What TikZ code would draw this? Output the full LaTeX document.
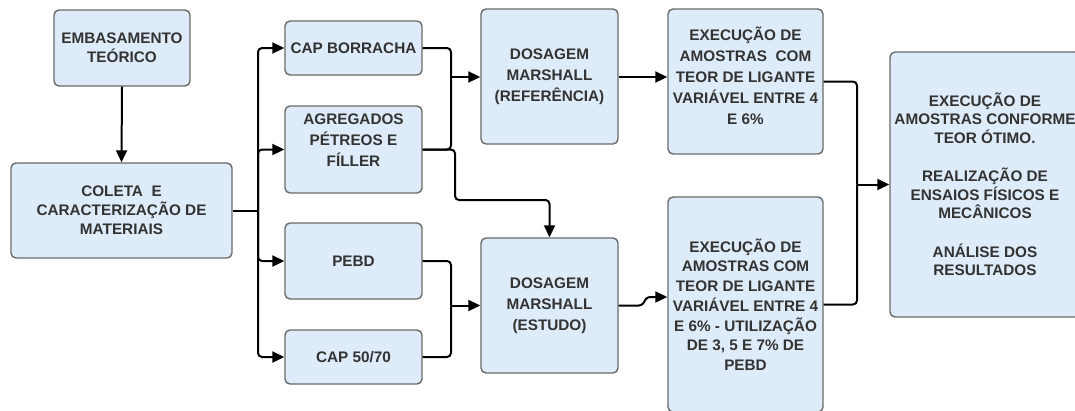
\documentclass[tikz,border=0pt]{standalone}
\usepackage{fontspec}
\setmainfont{Liberation Sans}
\usetikzlibrary{arrows.meta}
\definecolor{boxfill}{HTML}{DDECF8}
\definecolor{boxdraw}{HTML}{6A6A6A}
\definecolor{txt}{HTML}{333333}
\begin{document}
\begin{tikzpicture}[x=1pt,y=-1pt,
  box/.style={draw=boxdraw, fill=boxfill, line width=1.4pt, rounded corners=5pt,
    align=center, text=txt, inner sep=1pt, font=\bfseries\fontsize{15.3}{19}\selectfont},
  wide/.style={font=\bfseries\fontsize{15.3}{21}\selectfont},
  lbl/.style={align=center, text=txt, inner sep=0pt, font=\bfseries\fontsize{15.3}{21}\selectfont},
  conn/.style={line width=2pt, black, rounded corners=4pt},
  arr/.style={conn, -{Triangle[length=12pt,width=11pt]}}]
\useasboundingbox (0,0) rectangle (1075,410);

% boxes
\node[box, minimum width=136, minimum height=76] (emb) at (122,48) {EMBASAMENTO\\TEÓRICO};
\node[box, minimum width=221, minimum height=95] (col) at (121.5,210.5) {COLETA\ \ E\\CARACTERIZAÇÃO DE\\MATERIAIS};
\node[box, minimum width=137, minimum height=54] (capb) at (353.5,48) {CAP BORRACHA};
\node[box, minimum width=137, minimum height=87,
  label={[lbl, yshift=9.5pt]center:{AGREGADOS\\PÉTREOS E\\FÍLLER}}] (agr) at (353.5,149.5) {};
\node[box, minimum width=137, minimum height=76] (pebd) at (353.5,261) {PEBD};
\node[box, minimum width=137, minimum height=54] (cap5) at (353.5,357) {CAP 50/70};
\node[box, wide, minimum width=137, minimum height=135] (dref) at (549.5,76.5) {DOSAGEM\\MARSHALL\\(REFERÊNCIA)};
\node[box, wide, minimum width=137, minimum height=135] (dest) at (549.5,305.5) {DOSAGEM\\MARSHALL\\(ESTUDO)};
\node[box, minimum width=155, minimum height=145,
  label={[lbl, yshift=6pt]center:{EXECUÇÃO DE\\AMOSTRAS\ \ COM\\TEOR DE LIGANTE\\VARIÁVEL ENTRE 4\\E 6\%}}] (etop) at (745.5,81.5) {};
\node[box, font=\bfseries\fontsize{15.3}{19.7}\selectfont, minimum width=155, minimum height=215] (ebot) at (745.5,304.5)
  {EXECUÇÃO DE\\AMOSTRAS COM\\TEOR DE LIGANTE\\VARIÁVEL ENTRE 4\\E 6\% - UTILIZAÇÃO\\DE 3, 5 E 7\% DE\\PEBD};
\node[box, font=\bfseries\fontsize{15.3}{18.5}\selectfont, minimum width=190, minimum height=265] (fin) at (985,184.5)
  {EXECUÇÃO DE\\AMOSTRAS CONFORME\\TEOR ÓTIMO.\\[20pt]REALIZAÇÃO DE\\ENSAIOS FÍSICOS E\\MECÂNICOS\\[20pt]ANÁLISE DOS\\RESULTADOS};

% bus coordinates
\coordinate (b1) at (258,210.5);
\coordinate (m1) at (451,77);
\coordinate (m2) at (451,305.5);
\coordinate (j1) at (455,200);
\coordinate (k1) at (642,305.5);
\coordinate (k2) at (647,297);
\coordinate (m3) at (857,184.5);

% connectors
\draw[arr] (emb.south) -- (col.north);
\draw[conn] (col.east) -- (b1);
\draw[arr] (b1) |- (capb.west);
\draw[arr] (b1) |- (agr.west);
\draw[arr] (b1) |- (pebd.west);
\draw[arr] (b1) |- (cap5.west);

\draw[conn] (capb.east) -| (m1);
\draw[conn] (agr.east) -| (m1);
\draw[arr] (m1) -- (m1 -| dref.west);

\draw[arr] (agr.east) -- (agr.east -| j1) -- (j1) -| (dest.north);

\draw[conn] (pebd.east) -| (m2);
\draw[conn] (cap5.east) -| (m2);
\draw[arr] (m2) -- (dest.west);

\draw[arr] (dref.east |- m1) -- (etop.west |- m1);
\draw[arr, rounded corners=3pt] (dest.east) -- (k1) -- (k2) -- (k2 -| ebot.west);

\draw[conn] (etop.east) -| (m3);
\draw[conn] (ebot.east) -| (m3);
\draw[arr] (m3) -- (fin.west);
\end{tikzpicture}
\end{document}
